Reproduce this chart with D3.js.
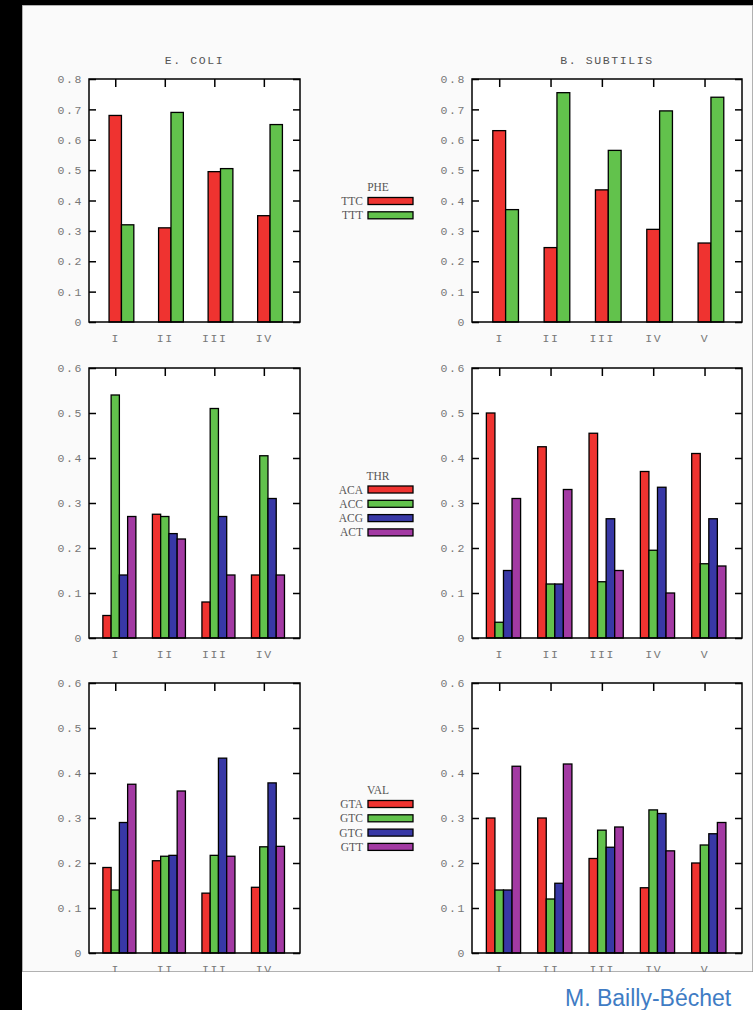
<!DOCTYPE html>
<html>
<head>
<meta charset="utf-8">
<script src="https://cdn.jsdelivr.net/npm/d3@7"></script>
<style>
  html, body { margin: 0; padding: 0; background: #fff; }
  svg { display: block; }
  .tick text { font-family: "Liberation Mono", "DejaVu Sans Mono", monospace; font-size: 11.5px; fill: #777; letter-spacing: 1.6px; }
  .title { font-family: "Liberation Mono", monospace; font-size: 11.5px; fill: #555; letter-spacing: 1.6px; }
  .legend text { font-family: "Liberation Serif", serif; font-size: 11.5px; fill: #555; }
</style>
</head>
<body>
<svg id="chart" width="753" height="1010"></svg>
<script>
// categories (experimental conditions / gene classes)
const ecoliCats = ['I', 'II', 'III', 'IV'];
const bsubCats = ['I', 'II', 'III', 'IV', 'V'];

// codons per amino acid
const pheCodons = ['TTC', 'TTT'];
const thrCodons = ['ACA', 'ACC', 'ACG', 'ACT'];
const valCodons = ['GTA', 'GTC', 'GTG', 'GTT'];

// codon frequencies, one row per category
const pheEcoli = [[0.68, 0.32], [0.31, 0.69], [0.495, 0.505], [0.35, 0.65]];
const pheBsub = [[0.63, 0.37], [0.245, 0.755], [0.435, 0.565], [0.305, 0.695], [0.26, 0.74]];

const thrEcoli = [
  [0.05, 0.54, 0.14, 0.27],
  [0.275, 0.27, 0.232, 0.22],
  [0.08, 0.51, 0.27, 0.14],
  [0.14, 0.405, 0.31, 0.14]
];
const thrBsub = [
  [0.50, 0.035, 0.15, 0.31],
  [0.425, 0.12, 0.12, 0.33],
  [0.455, 0.125, 0.265, 0.15],
  [0.37, 0.195, 0.335, 0.10],
  [0.41, 0.165, 0.265, 0.16]
];

const valEcoli = [
  [0.19, 0.14, 0.29, 0.375],
  [0.205, 0.215, 0.217, 0.36],
  [0.133, 0.217, 0.433, 0.215],
  [0.146, 0.236, 0.378, 0.237]
];
const valBsub = [
  [0.30, 0.14, 0.14, 0.415],
  [0.30, 0.12, 0.155, 0.42],
  [0.21, 0.273, 0.235, 0.28],
  [0.145, 0.318, 0.31, 0.227],
  [0.20, 0.24, 0.265, 0.29]
];

const codonColors = ['#ef3330', '#62c24c', '#3838a6', '#a33aa3'];

const svg = d3.select('#chart');

// page background: black strips, picture area, white slide
svg.append('rect').attr('width', 753).attr('height', 1010).attr('fill', '#fff');
svg.append('rect').attr('width', 753).attr('height', 5).attr('fill', '#000');
svg.append('rect').attr('width', 22).attr('height', 1010).attr('fill', '#000');

svg.append('defs').append('clipPath').attr('id', 'pic')
  .append('rect').attr('x', 22).attr('y', 5).attr('width', 731).attr('height', 967);

const pic = svg.append('g').attr('clip-path', 'url(#pic)');
pic.append('rect')
  .attr('x', 22).attr('y', 5).attr('width', 731).attr('height', 967)
  .attr('fill', '#fafafa').attr('stroke', '#999').attr('stroke-width', 1.5);

function drawPanel({ cats, values, ymax, x0, x1, y0, y1 }) {
  const g = pic.append('g');
  const x = d3.scaleLinear().domain([-0.53, cats.length - 1 + 0.73]).range([x0, x1]);
  const y = d3.scaleLinear().domain([0, ymax]).range([y1, y0]);
  const n = values[0].length;
  const w = (x(1) - x(0)) / (n + 2);

  g.append('rect')
    .attr('x', x0).attr('y', y0).attr('width', x1 - x0).attr('height', y1 - y0)
    .attr('fill', '#fff');

  const ticks = d3.range(0, ymax + 1e-9, 0.1);

  // bars
  g.selectAll('g.cat')
    .data(values)
    .join('g')
    .attr('class', 'cat')
    .selectAll('rect')
    .data((row, i) => row.map((v, j) => ({ i, j, v })))
    .join('rect')
    .attr('x', d => x(d.i) + (d.j - n / 2 + 1) * w - w / 2)
    .attr('y', d => y(d.v))
    .attr('width', w)
    .attr('height', d => y(0) - y(d.v))
    .attr('fill', d => codonColors[d.j])
    .attr('stroke', '#000')
    .attr('stroke-width', 1.3);

  const left = g.append('g')
    .attr('transform', `translate(${x0},0)`)
    .call(d3.axisLeft(y).tickValues(ticks).tickSize(-7).tickPadding(6)
      .tickFormat(d => (d < 1e-9 ? '0' : d3.format('.1f')(d))));
  const right = g.append('g')
    .attr('transform', `translate(${x1},0)`)
    .call(d3.axisRight(y).tickValues(ticks).tickSize(-7).tickFormat(''));
  const top = g.append('g')
    .attr('transform', `translate(0,${y0})`)
    .call(d3.axisTop(x).tickValues(d3.range(cats.length)).tickSize(-8).tickFormat(''));
  const bottom = g.append('g')
    .attr('transform', `translate(0,${y1})`)
    .call(d3.axisBottom(x).tickValues(d3.range(cats.length)).tickSize(0).tickPadding(12)
      .tickFormat(i => cats[i]));

  [left, right, top, bottom].forEach(a => {
    a.select('.domain').remove();
    a.selectAll('line').attr('stroke', '#000').attr('stroke-width', 1.5);
  });

  g.append('rect')
    .attr('x', x0).attr('y', y0).attr('width', x1 - x0).attr('height', y1 - y0)
    .attr('fill', 'none').attr('stroke', '#000').attr('stroke-width', 1.5);
}

function drawLegend(name, codons, yFirst) {
  const step = 14.3;
  const lg = pic.append('g').attr('class', 'legend');
  lg.append('text')
    .attr('x', 378).attr('y', yFirst - 14)
    .attr('text-anchor', 'middle').attr('dy', '0.35em')
    .text(name);
  const rows = lg.selectAll('g.row')
    .data(codons)
    .join('g')
    .attr('class', 'row')
    .attr('transform', (d, i) => `translate(0,${yFirst + i * step})`);
  rows.append('text')
    .attr('x', 363).attr('text-anchor', 'end').attr('dy', '0.35em')
    .text(d => d);
  rows.append('rect')
    .attr('x', 368).attr('y', -3.5).attr('width', 45).attr('height', 7)
    .attr('fill', (d, i) => codonColors[i])
    .attr('stroke', '#000').attr('stroke-width', 1.3);
}

const col1 = { x0: 89, x1: 300 };
const col2 = { x0: 472, x1: 742 };
const row1 = { y0: 79, y1: 322 };
const row2 = { y0: 368, y1: 638 };
const row3 = { y0: 683, y1: 953 };

drawPanel({ cats: ecoliCats, values: pheEcoli, ymax: 0.8, ...col1, ...row1 });
drawPanel({ cats: bsubCats, values: pheBsub, ymax: 0.8, ...col2, ...row1 });
drawPanel({ cats: ecoliCats, values: thrEcoli, ymax: 0.6, ...col1, ...row2 });
drawPanel({ cats: bsubCats, values: thrBsub, ymax: 0.6, ...col2, ...row2 });
drawPanel({ cats: ecoliCats, values: valEcoli, ymax: 0.6, ...col1, ...row3 });
drawPanel({ cats: bsubCats, values: valBsub, ymax: 0.6, ...col2, ...row3 });

pic.append('text').attr('class', 'title')
  .attr('x', (col1.x0 + col1.x1) / 2).attr('y', 60).attr('dy', '0.35em')
  .attr('text-anchor', 'middle').text('E. COLI');
pic.append('text').attr('class', 'title')
  .attr('x', (col2.x0 + col2.x1) / 2).attr('y', 60).attr('dy', '0.35em')
  .attr('text-anchor', 'middle').text('B. SUBTILIS');

drawLegend('PHE', pheCodons, 201);
drawLegend('THR', thrCodons, 489.5);
drawLegend('VAL', valCodons, 804);

svg.append('text')
  .attr('x', 565).attr('y', 1006)
  .attr('font-family', '"Liberation Sans", Arial, sans-serif')
  .attr('font-size', 23)
  .attr('fill', '#3f7cc4')
  .text('M. Bailly-Béchet');
</script>
</body>
</html>
